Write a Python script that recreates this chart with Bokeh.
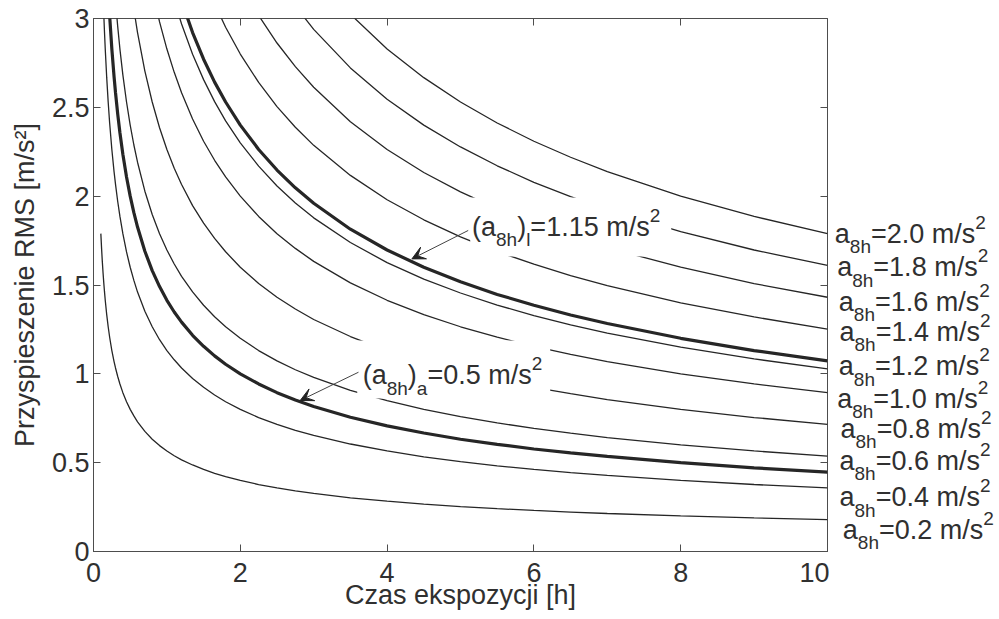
from bokeh.plotting import figure
from bokeh.layouts import row
from bokeh.models import (Range1d, LinearAxis, FixedTicker, Label, BoxAnnotation,
                          Arrow, VeeHead, CustomJSTickFormatter)
from bokeh.embed import file_html
from bokeh.resources import INLINE

# ---------------- data ----------------
# exposure time grid [h]
T = [0.1, 0.11, 0.12, 0.13, 0.14, 0.15, 0.16, 0.18, 0.2, 0.22, 0.25, 0.28, 0.3, 0.33,
     0.36, 0.4, 0.45, 0.5, 0.55, 0.6, 0.7, 0.8, 0.9, 1.0, 1.1, 1.2, 1.35, 1.5, 1.65,
     1.8, 2.0, 2.25, 2.5, 2.75, 3.0, 3.5, 4.0, 4.5, 5.0, 5.5, 6.0, 6.5, 7.0, 8.0, 9.0, 10.0]

# RMS acceleration [m/s^2]; each list covers the last len(list) entries of T
a_02 = [1.789, 1.706, 1.633, 1.569, 1.512, 1.461, 1.414, 1.333, 1.265, 1.206, 1.131, 1.069,
        1.033, 0.985, 0.943, 0.894, 0.843, 0.800, 0.763, 0.730, 0.676, 0.632, 0.596, 0.566,
        0.539, 0.516, 0.487, 0.462, 0.440, 0.422, 0.400, 0.377, 0.358, 0.341, 0.327, 0.302,
        0.283, 0.267, 0.253, 0.241, 0.231, 0.222, 0.214, 0.200, 0.189, 0.179]
a_04 = [3.024, 2.921, 2.828, 2.667, 2.530, 2.412, 2.263, 2.138, 2.066, 1.970, 1.886, 1.789,
        1.686, 1.600, 1.526, 1.460, 1.352, 1.265, 1.192, 1.131, 1.079, 1.033, 0.974, 0.924,
        0.881, 0.843, 0.800, 0.754, 0.716, 0.682, 0.653, 0.605, 0.566, 0.533, 0.506, 0.482,
        0.462, 0.444, 0.428, 0.400, 0.377, 0.358]
a_05 = [3.015, 2.828, 2.673, 2.582, 2.462, 2.357, 2.236, 2.108, 2.000, 1.907, 1.826, 1.690,
        1.581, 1.491, 1.414, 1.348, 1.291, 1.217, 1.155, 1.101, 1.054, 1.000, 0.943, 0.894,
        0.853, 0.816, 0.756, 0.707, 0.667, 0.632, 0.603, 0.577, 0.555, 0.535, 0.500, 0.471,
        0.447]
a_06 = [3.098, 2.954, 2.828, 2.683, 2.530, 2.400, 2.288, 2.191, 2.028, 1.897, 1.789, 1.697,
        1.618, 1.549, 1.461, 1.386, 1.321, 1.265, 1.200, 1.131, 1.073, 1.023, 0.980, 0.907,
        0.849, 0.800, 0.759, 0.724, 0.693, 0.666, 0.641, 0.600, 0.566, 0.537]
a_08 = [3.051, 2.921, 2.704, 2.530, 2.385, 2.263, 2.157, 2.066, 1.947, 1.848, 1.762, 1.687,
        1.600, 1.509, 1.431, 1.365, 1.306, 1.210, 1.131, 1.067, 1.012, 0.965, 0.924, 0.888,
        0.855, 0.800, 0.754, 0.716]
a_10 = [3.162, 2.981, 2.828, 2.697, 2.582, 2.434, 2.309, 2.202, 2.108, 2.000, 1.886, 1.789,
        1.706, 1.633, 1.512, 1.414, 1.333, 1.265, 1.206, 1.155, 1.109, 1.069, 1.000, 0.943,
        0.894]
a_115 = [3.102, 2.969, 2.799, 2.656, 2.532, 2.424, 2.300, 2.169, 2.057, 1.962, 1.878, 1.739,
         1.626, 1.533, 1.455, 1.387, 1.328, 1.275, 1.229, 1.150, 1.084, 1.028]
a_12 = [3.098, 2.921, 2.771, 2.642, 2.530, 2.400, 2.263, 2.147, 2.047, 1.960, 1.814, 1.697,
        1.600, 1.518, 1.447, 1.386, 1.331, 1.283, 1.200, 1.131, 1.073]
a_14 = [3.083, 2.951, 2.800, 2.640, 2.504, 2.388, 2.286, 2.117, 1.980, 1.867, 1.771, 1.688,
        1.617, 1.553, 1.497, 1.400, 1.320, 1.252]
a_16 = [3.017, 2.862, 2.729, 2.613, 2.419, 2.263, 2.133, 2.024, 1.930, 1.848, 1.775, 1.710,
        1.600, 1.508, 1.431]
a_18 = [3.070, 2.939, 2.722, 2.546, 2.400, 2.277, 2.171, 2.078, 1.997, 1.924, 1.800, 1.697,
        1.610]
a_20 = [3.024, 2.828, 2.667, 2.530, 2.412, 2.309, 2.219, 2.138, 2.000, 1.886, 1.789]

thin_curves = [a_02, a_04, a_06, a_08, a_10, a_115, a_14, a_16, a_18, a_20]
thick_curves = [a_05, a_12]

level_texts = ["2.0", "1.8", "1.6", "1.4", "1.2", "1.0", "0.8", "0.6", "0.4", "0.2"]
limit_text = "1.15"
action_text = "0.5"

x_ticks = [0, 2, 4, 6, 8, 10]
y_ticks = [0, 0.5, 1, 1.5, 2, 2.5, 3]
y_tick_labels = ["0", "0.5", "1", "1.5", "2", "2.5", "3"]

# ---------------- styling / layout ----------------
FONT = "Liberation Sans"
TXT = "#303030"
LINE = "#262626"
AX = "#4d4d4d"
F = 27      # main text size (px)
FS = 19     # sub/superscript size (px)
SUB_DY = -13
SUP_DY = 11.5

TOP, BOTTOM, HEIGHT = 18, 68, 619
MAIN_W, SIDE_W = 829, 170

p = figure(width=MAIN_W, height=HEIGHT, x_range=Range1d(0, 10), y_range=Range1d(0, 3),
           output_backend="svg", toolbar_location=None,
           min_border_left=93, min_border_right=2, min_border_top=TOP,
           min_border_bottom=BOTTOM)
p.xgrid.visible = False
p.ygrid.visible = False
p.outline_line_color = AX
p.outline_line_width = 1
p.background_fill_color = "white"
p.border_fill_color = "white"

xa = p.below[0]
ya = p.left[0]
xa.ticker = FixedTicker(ticks=x_ticks)
ya.ticker = FixedTicker(ticks=y_ticks)
ya.formatter = CustomJSTickFormatter(code="return String(tick)")
ya.major_label_overrides = {t: s for t, s in zip(y_ticks, y_tick_labels)}
for ax in (xa, ya):
    ax.major_tick_in = 7
    ax.major_tick_out = 0
    ax.minor_tick_line_color = None
    ax.axis_line_color = AX
    ax.major_tick_line_color = AX
    ax.major_label_text_font = FONT
    ax.major_label_text_font_size = f"{F}px"
    ax.major_label_text_color = TXT
    ax.axis_label_text_font = FONT
    ax.axis_label_text_font_size = f"{F}px"
    ax.axis_label_text_font_style = "normal"
    ax.axis_label_text_color = TXT
xa.major_label_standoff = 11
ya.major_label_standoff = 4
ya.axis_label = "Przyspieszenie RMS [m/s²]"
ya.axis_label_standoff = 9
xa.axis_label = "Czas ekspozycji [h]"
xa.axis_label_standoff = -5

blank = CustomJSTickFormatter(code="return ''")
top = LinearAxis(ticker=FixedTicker(ticks=x_ticks), formatter=blank, major_tick_in=7,
                 major_tick_out=0, minor_tick_line_color=None, axis_line_color=None,
                 major_tick_line_color=AX, major_label_standoff=0)
right = LinearAxis(ticker=FixedTicker(ticks=y_ticks), formatter=blank, major_tick_in=7,
                   major_tick_out=0, minor_tick_line_color=None, axis_line_color=None,
                   major_tick_line_color=AX, major_label_standoff=0)
p.add_layout(top, "above")
p.add_layout(right, "right")

# curves
for ys in thin_curves:
    xs = T[len(T) - len(ys):]
    p.line(xs, ys, line_color=LINE, line_width=1.3)
for ys in thick_curves:
    xs = T[len(T) - len(ys):]
    p.line(xs, ys, line_color=LINE, line_width=3.2)

# white boxes behind the two callouts
p.add_layout(BoxAnnotation(left=5.132, right=7.871, bottom=1.660, top=1.992,
                           fill_color="white", fill_alpha=1.0, line_alpha=0))
p.add_layout(BoxAnnotation(left=3.593, right=6.222, bottom=0.861, top=1.188,
                           fill_color="white", fill_alpha=1.0, line_alpha=0))

# arrows
for (x0, y0, x1, y1) in [(5.105, 1.807, 4.338, 1.647), (3.61, 1.009, 2.816, 0.850)]:
    p.add_layout(Arrow(x_start=x0, y_start=y0, x_end=x1, y_end=y1,
                       line_color="#444444", line_width=1,
                       end=VeeHead(size=13, fill_color="#222222", line_color="#222222",
                                   line_width=1)))

# side panel for the right-hand level labels (same vertical frame as the main plot)
side = figure(width=SIDE_W, height=HEIGHT, output_backend="svg", toolbar_location=None,
              x_range=Range1d(0, SIDE_W), y_range=Range1d(0, 3),
              x_axis_type=None, y_axis_type=None,
              min_border_left=0, min_border_right=0, min_border_top=TOP,
              min_border_bottom=BOTTOM)
side.xgrid.visible = False
side.ygrid.visible = False
side.outline_line_color = None
side.background_fill_color = "white"
side.border_fill_color = "white"

# text helpers
W = {'a': 556, '8': 556, 'h': 556, '=': 584, '.': 278, ' ': 278, 'm': 833, '/': 278,
     's': 500, '(': 333, ')': 333, 'l': 222}


def tw(s, size):
    return sum(W.get(c, 556) for c in s) * size / 1000.0


def rich(fig, x, y, x_off, pieces):
    off = x_off
    for txt, kind in pieces:
        size = F if kind == "main" else FS
        dy = 0 if kind == "main" else (SUB_DY if kind == "sub" else SUP_DY)
        fig.add_layout(Label(x=x, y=y, x_offset=off, y_offset=dy, text=txt,
                             text_font=FONT, text_font_size=f"{size}px", text_color=TXT,
                             text_align="left", text_baseline="alphabetic"))
        off += tw(txt, size)


# right-hand labels: (x in side-panel pixels, baseline in data units)
right_pos = [(5.3, 1.788), (7.7, 1.600), (9.3, 1.407), (10.0, 1.238), (9.3, 1.043),
             (7.7, 0.859), (11.0, 0.691), (10.0, 0.512), (10.0, 0.306), (13.3, 0.122)]
for txt, (xo, yb) in zip(level_texts, right_pos):
    rich(side, xo, yb, 0, [("a", "main"), ("8h", "sub"), ("=" + txt + " m/s", "main"),
                           ("2", "sup")])

rich(p, 5.157, 1.829, 0, [("(a", "main"), ("8h", "sub"), (")", "main"), ("l", "sub"),
                          ("=" + limit_text + " m/s", "main"), ("2", "sup")])
rich(p, 3.668, 0.991, 0, [("(a", "main"), ("8h", "sub"), (")", "main"), ("a", "sub"),
                          ("=" + action_text + " m/s", "main"), ("2", "sup")])

layout = row(p, side, spacing=0)
open("out.html", "w").write(file_html(layout, INLINE))
